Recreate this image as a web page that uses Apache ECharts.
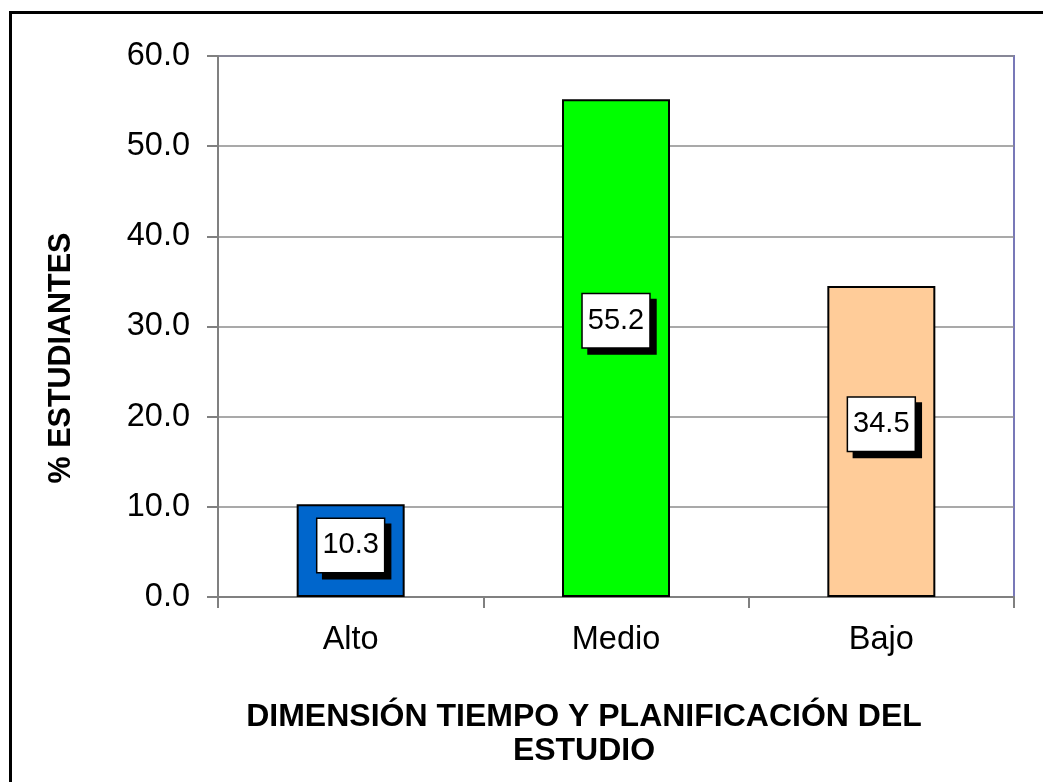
<!DOCTYPE html>
<html>
<head>
<meta charset="utf-8">
<script src="https://cdn.jsdelivr.net/npm/echarts@6/dist/echarts.min.js"></script>
<style>
html,body{margin:0;padding:0;background:#fff;}
#c{width:1043px;height:782px;}
</style>
</head>
<body>
<div id="c"></div>
<script>
const categories = ['Alto', 'Medio', 'Bajo'];
const values = [10.3, 55.2, 34.5];
const barColors = ['#0066CC', '#00FF00', '#FFCC99'];
const yTicks = { min: 0, max: 60, interval: 10 };
const yName = '% ESTUDIANTES';
const xName = 'DIMENSIÓN TIEMPO Y PLANIFICACIÓN DEL\nESTUDIO';

const FONT = "'Liberation Sans', Arial, sans-serif";
const chart = echarts.init(document.getElementById('c'));
chart.setOption({
  animation: false,
  backgroundColor: '#fff',
  grid: {
    left: 218, top: 56, right: 29, bottom: 185,
    show: true, borderColor: '#7878B8', borderWidth: 2, backgroundColor: 'transparent'
  },
  xAxis: {
    type: 'category',
    data: categories,
    axisLine: { lineStyle: { color: '#808080', width: 2 } },
    axisTick: { show: true, length: 11, lineStyle: { color: '#808080', width: 2 } },
    axisLabel: { color: '#000', fontFamily: FONT, fontSize: 32.5, margin: 27 }
  },
  yAxis: {
    type: 'value',
    min: yTicks.min, max: yTicks.max, interval: yTicks.interval,
    axisLine: { show: true, lineStyle: { color: '#808080', width: 2 } },
    axisTick: { show: true, length: 11, lineStyle: { color: '#808080', width: 2 } },
    splitLine: { show: true, lineStyle: { color: '#8C8C8C', width: 1.5 } },
    axisLabel: {
      color: '#000', fontFamily: FONT, fontSize: 32.5, margin: 28,
      formatter: v => v.toFixed(1)
    }
  },
  series: [{
    type: 'bar',
    barWidth: 108,
    data: values.map((v, i) => ({ value: v, itemStyle: { color: barColors[i] } })),
    itemStyle: { borderColor: '#000', borderWidth: 2 },
    label: {
      show: true,
      position: ['50%', '44.5%'],
      align: 'center',
      verticalAlign: 'middle',
      formatter: p => p.value.toFixed(1),
      color: '#000',
      fontFamily: FONT,
      fontSize: 29,
      backgroundColor: '#fff',
      borderColor: '#000',
      borderWidth: 1.5,
      padding: [13, 5, 11, 5],
      shadowColor: '#000',
      shadowBlur: 0,
      shadowOffsetX: 6,
      shadowOffsetY: 6
    },
    z: 3
  }],
  graphic: [
    {
      type: 'rect',
      shape: { x: 10.5, y: 12.5, width: 1200, height: 900 },
      style: { fill: 'none', stroke: '#000', lineWidth: 3 },
      silent: true
    },
    {
      type: 'text',
      x: 62, y: 358,
      rotation: Math.PI / 2,
      style: {
        text: yName, font: 'bold 30.5px ' + FONT, fill: '#000',
        align: 'center', verticalAlign: 'middle'
      }
    },
    {
      type: 'text',
      x: 584, y: 734,
      style: {
        text: xName, font: 'bold 32px ' + FONT, fill: '#000',
        align: 'center', verticalAlign: 'middle', lineHeight: 34
      }
    }
  ]
});
</script>
</body>
</html>
